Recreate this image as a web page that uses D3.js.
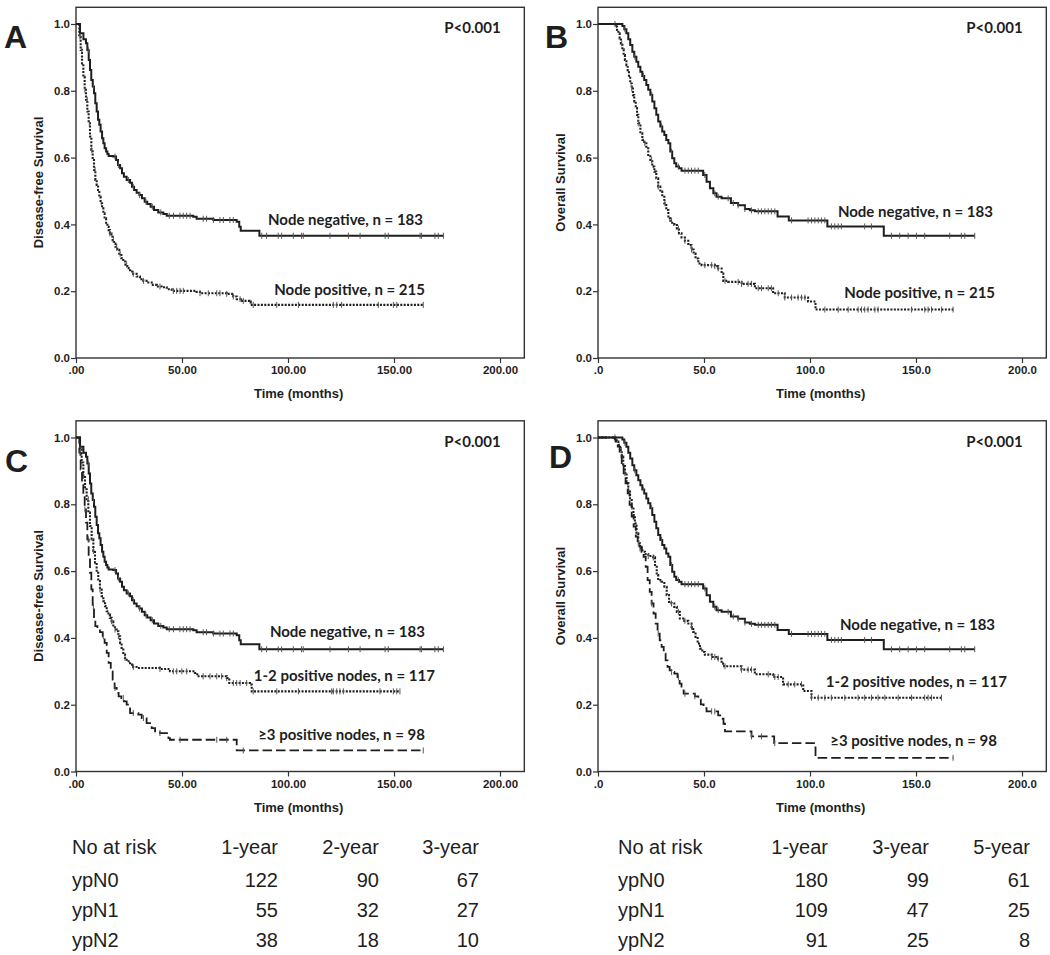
<!DOCTYPE html>
<html>
<head>
<meta charset="utf-8">
<script src="https://cdn.jsdelivr.net/npm/d3@7"></script>
<style>
    body { margin: 0; background: #fff; }
    svg text { fill: #1e1e1e; }
    .tick text { font: bold 11.5px "Liberation Sans", Arial, sans-serif; }
    .tick line { stroke: #333; stroke-width: 1.2; }
    .ytitle, .xtitle { font: bold 13px "Liberation Sans", Arial, sans-serif; }
    .letter { font: bold 32px "Liberation Sans", Arial, sans-serif; }
    .curve-label, .pval { font: bold 15px Lato, "Open Sans", sans-serif; }
    .risk { font: 20px "Liberation Sans", Arial, sans-serif; }
</style>
</head>
<body>
<svg id="chart"></svg>
<script>
(function(){
    "use strict";

    // ---- data: [months, survival] step points ----
    var dfsNodeNeg = [[0,1],[1.9,0.972],[3.5,0.954],[4.7,0.942],[5.35,0.922],[6.0,0.892],[6.6,0.862],[7.2,0.832],
        [7.9,0.813],[8.5,0.793],[9.1,0.763],[9.75,0.738],[10.4,0.713],[11.0,0.698],[11.6,0.678],[12.3,0.658],
        [12.9,0.643],[13.5,0.628],[14.2,0.618],[14.8,0.611],[15.4,0.605],[17.6,0.603],[18.9,0.593],[19.8,0.578],
        [20.8,0.568],[21.7,0.553],[22.6,0.543],[23.9,0.533],[25.5,0.525],[26.4,0.513],[27.4,0.503],[28.6,0.495],
        [29.9,0.488],[31.1,0.478],[32.4,0.468],[33.6,0.461],[35.2,0.453],[36.8,0.443],[38.8,0.436],[41.2,0.431],
        [42.8,0.426],[55.3,0.423],[56.9,0.417],[64.8,0.413],[75.8,0.408],[77.0,0.393],[77.7,0.381],[86.5,0.366],[173.3,0.366]];
    var dfsNodeNegCens = [5.8,8.2,18.4,20,24.7,27,30,33,36,40,44,46,49,50.6,52.2,53.8,60,61.6,64.8,67.9,69.5,72.6,74.2,
        87.6,89.9,95.4,97,102.5,106.4,107.2,119.8,128.5,134,145.8,147.3,162.3,163,169.3,170.9,173.3];

    var dfsNodePos = [[0,1],[1.1,1],[1.57,0.962],[2.2,0.922],[2.83,0.882],[3.46,0.842],[4.09,0.803],[4.72,0.773],
        [5.35,0.738],[5.97,0.703],[6.6,0.663],[7.23,0.623],[7.86,0.593],[8.49,0.563],[9.12,0.533],[9.75,0.518],
        [10.4,0.503],[11.0,0.483],[11.6,0.463],[12.3,0.448],[12.9,0.433],[13.5,0.418],[14.2,0.405],[14.8,0.393],
        [15.4,0.383],[16.0,0.373],[16.7,0.363],[17.3,0.353],[17.9,0.343],[18.6,0.333],[19.5,0.324],[20.4,0.312],
        [21.4,0.299],[22.3,0.289],[23.3,0.279],[24.2,0.269],[25.5,0.259],[27.0,0.252],[28.6,0.244],[30.2,0.236],
        [31.8,0.231],[33.3,0.226],[35.7,0.219],[38.1,0.214],[40.4,0.212],[42.8,0.206],[45.1,0.201],[56.9,0.198],
        [58.5,0.194],[71.1,0.192],[74.2,0.184],[75.8,0.176],[77.7,0.171],[81.8,0.169],[82.4,0.159],[163.8,0.159]];
    var dfsNodePosCens = [1.9,2.7,4.2,5.3,6.3,7.4,9,16,17.6,19.2,20.8,23.9,27,31.8,39.6,45.9,47.5,49.1,50.6,58.5,62.4,
        66.4,67.9,71.1,74.2,77.4,78.9,83.6,94.7,104.9,121.4,123,125.3,142.6,149.7,151.3,163.8];

    var dfsN1 = [[0,1],[1.1,1],[1.89,0.965],[2.67,0.925],[3.46,0.885],[4.25,0.845],[5.03,0.815],[5.82,0.775],
        [6.6,0.735],[7.39,0.695],[8.18,0.66],[8.96,0.625],[9.75,0.595],[10.5,0.57],[11.3,0.545],[12.1,0.525],
        [12.9,0.51],[13.7,0.495],[14.5,0.48],[15.3,0.47],[16.0,0.46],[16.8,0.45],[17.6,0.437],[18.4,0.425],
        [19.2,0.42],[20.0,0.405],[20.8,0.385],[21.5,0.37],[22.3,0.35],[23.1,0.34],[23.9,0.33],[25.5,0.32],
        [27.0,0.313],[28.6,0.31],[39.6,0.307],[44.3,0.30],[56.1,0.295],[57.2,0.285],[71.1,0.28],[72.3,0.265],
        [82.1,0.26],[82.9,0.24],[152.8,0.24]];
    var dfsN1Cens = [1.9,3.5,5.8,8.2,11.3,16.8,18.4,20,23.1,27,39.6,45.9,47.5,49.9,52.2,60,63.2,66.4,68.7,71.1,74.2,
        75.8,77.4,80.5,83.6,94.7,104.9,120.6,121.4,123,124.5,126.1,143.4,149.7,151.3,152.8];

    var dfsN2 = [[0,1],[1.1,1],[1.57,0.955],[2.2,0.905],[2.83,0.865],[3.46,0.825],[4.09,0.785],[4.72,0.745],
        [5.35,0.695],[5.97,0.645],[6.6,0.595],[7.23,0.545],[7.86,0.495],[8.49,0.455],[9.12,0.435],[10.1,0.427],
        [11.3,0.417],[12.6,0.405],[13.5,0.385],[14.5,0.355],[15.4,0.325],[16.4,0.30],[17.3,0.275],[18.2,0.25],
        [19.2,0.235],[20.1,0.225],[21.4,0.22],[22.6,0.21],[23.9,0.20],[25.5,0.175],[29.4,0.17],[31.0,0.16],
        [33.3,0.145],[35.7,0.13],[37.3,0.12],[39.6,0.115],[43.6,0.10],[44.3,0.095],[75.8,0.063],[163.8,0.063]];
    var dfsN2Cens = [1.9,4.2,5.8,8.2,12.9,18.4,22.3,27,31.8,39.6,49.1,66.4,71.1,78.9,163.8];

    var osNodeNeg = [[0,1],[10.8,1],[11.5,0.994],[12.4,0.984],[13.4,0.972],[14.3,0.954],[15.2,0.937],[16.2,0.917],
        [17.1,0.902],[18.1,0.887],[19.0,0.872],[20.0,0.857],[20.9,0.844],[21.8,0.832],[22.8,0.817],[23.7,0.803],
        [24.7,0.788],[25.6,0.768],[26.6,0.748],[27.5,0.728],[28.4,0.708],[29.4,0.693],[30.3,0.678],[31.3,0.668],
        [32.2,0.653],[33.2,0.643],[34.1,0.618],[35.0,0.598],[36.0,0.583],[36.9,0.573],[38.2,0.568],[39.4,0.561],
        [49.6,0.548],[51.2,0.528],[52.8,0.508],[54.4,0.493],[55.9,0.483],[58.3,0.478],[62.7,0.464],[66.1,0.457],
        [69.3,0.446],[71.6,0.442],[74.0,0.439],[84.7,0.424],[90.0,0.412],[108.2,0.394],[134.8,0.366],[177.7,0.366]];
    var osNodeNegCens = [8,12.7,17.4,21.4,25.3,30,34.7,37.9,41,42.6,44.1,45.7,47.3,50.4,55.1,56.7,61.4,63.8,66.1,69.3,
        72.4,75.6,77.1,78.7,80.3,81.8,83.4,91.3,99.1,100.7,102.3,103.9,105.4,107,110.1,111.7,113.3,114.8,125.8,129,
        138.4,142.3,146.3,150.2,154.1,165.9,171.4,173,177.7];

    var osNodePos = [[0,1],[7.7,1],[8.3,0.992],[9.0,0.982],[9.6,0.972],[10.2,0.957],[10.8,0.942],[11.5,0.924],
        [12.1,0.907],[12.7,0.892],[13.4,0.877],[14.0,0.862],[14.6,0.842],[15.2,0.822],[15.9,0.807],[16.5,0.787],
        [17.1,0.768],[17.8,0.748],[18.4,0.728],[19.0,0.703],[20.0,0.673],[20.9,0.653],[21.8,0.643],[22.8,0.628],
        [23.7,0.608],[24.7,0.593],[25.6,0.573],[26.6,0.558],[27.5,0.538],[28.4,0.513],[29.4,0.498],[30.3,0.483],
        [31.3,0.463],[32.2,0.443],[33.2,0.418],[34.1,0.411],[35.0,0.405],[36.0,0.398],[37.2,0.388],[38.2,0.373],
        [39.4,0.361],[41.0,0.351],[42.6,0.338],[44.1,0.325],[45.1,0.313],[46.0,0.298],[47.3,0.283],[48.9,0.278],
        [55.1,0.275],[56.7,0.268],[58.3,0.253],[59.1,0.231],[61.4,0.228],[67.7,0.222],[74.0,0.209],[82.6,0.194],
        [88.1,0.181],[99.1,0.169],[102.6,0.145],[167.5,0.145]];
    var osNodePosCens = [11.2,15.9,19,22.1,25.3,28.4,31.6,34.7,37.9,41,44.1,50.4,53.6,55.1,56.7,59.9,66.1,67.7,70.8,
        72.4,75.6,77.1,80.3,81.8,85,88.1,91.3,94.4,96,97.6,107,113.3,118,122.7,124.3,125.8,127.4,130.6,132.1,147.9,
        154.1,155.7,157.3,162,167.5];

    var osN1 = [[0,1],[7.2,1],[8.0,0.995],[8.8,0.988],[9.6,0.978],[10.4,0.963],[11.2,0.943],[11.9,0.918],
        [12.7,0.893],[13.5,0.868],[14.3,0.843],[15.1,0.818],[15.9,0.793],[16.7,0.768],[17.4,0.743],[18.2,0.713],
        [19.0,0.683],[19.8,0.668],[20.6,0.658],[22.2,0.651],[23.7,0.645],[26.1,0.641],[26.9,0.613],[27.7,0.588],
        [28.4,0.573],[30.0,0.568],[31.3,0.553],[32.4,0.528],[33.5,0.508],[34.7,0.503],[36.0,0.493],[37.2,0.478],
        [38.6,0.458],[40.2,0.451],[42.6,0.443],[44.1,0.433],[44.9,0.418],[46.0,0.403],[47.0,0.383],[48.1,0.368],
        [49.2,0.358],[50.4,0.35],[53.6,0.343],[55.9,0.338],[58.3,0.323],[59.5,0.315],[67.7,0.305],[74.0,0.291],
        [82.6,0.283],[87.3,0.261],[96.8,0.241],[100.7,0.221],[162.0,0.221]];
    var osN1Cens = [11,14.3,15.9,19.8,23.7,26.1,34.7,37.9,41,44.1,53.6,55.1,56.7,59.9,67.7,70.8,72.4,80.3,83.4,85,
        89.7,92.8,96,100.7,103.9,107,110.1,116.4,122.7,125.8,129,132.1,135.3,141.6,147.9,154.1,155.7,157.3,162];

    var osN2 = [[0,1],[7.2,1],[8.3,0.988],[9.3,0.973],[10.2,0.953],[11.2,0.923],[12.1,0.893],[13.0,0.863],
        [14.0,0.833],[14.9,0.798],[15.9,0.763],[16.8,0.733],[17.8,0.703],[18.7,0.683],[19.6,0.673],[20.6,0.663],
        [21.5,0.643],[22.5,0.613],[23.4,0.573],[24.4,0.538],[25.3,0.503],[26.2,0.473],[27.2,0.443],[28.1,0.413],
        [29.1,0.393],[30.0,0.373],[31.0,0.353],[31.9,0.333],[32.8,0.313],[33.8,0.303],[34.7,0.298],[36.0,0.293],
        [37.5,0.283],[38.5,0.263],[39.4,0.243],[40.4,0.233],[45.7,0.225],[47.3,0.215],[48.5,0.201],[49.8,0.19],
        [51.2,0.18],[56.7,0.168],[58.3,0.158],[59.2,0.143],[59.9,0.12],[72.4,0.105],[83.1,0.085],[102.6,0.041],
        [167.5,0.041]];
    var osN2Cens = [12.7,19,25.3,28.4,34.7,37.9,41,45.7,53.6,55.1,72.4,77.1,83.4,167.5];

    var yTicks = [0, 0.2, 0.4, 0.6, 0.8, 1.0];
    var xTicks = [0, 50, 100, 150, 200];
    var pValue = "P<0.001";

    // number at risk tables
    var riskGroups = ["ypN0", "ypN1", "ypN2"];
    var riskHeadDFS = ["1-year", "2-year", "3-year"];
    var riskDFS = [[122, 90, 67], [55, 32, 27], [38, 18, 10]];
    var riskHeadOS = ["1-year", "3-year", "5-year"];
    var riskOS = [[180, 99, 61], [109, 47, 25], [91, 25, 8]];

    // ---- layout ----
    var width = 1050, height = 955;
    var pxPerMonth = 2.12, pxPerUnit = 334, xMax = 211, yMax = 1.05;

    var svg = d3.select("svg#chart")
        .attr("width", width)
        .attr("height", height);

    var styles = {
        solid:  {dash: null, w: 2},
        dotted: {dash: "2,1.4", w: 2.1},
        dashed: {dash: "9.5,4", w: 1.8}
    };

    function fmt2(d) { return d === 0 ? ".00" : d.toFixed(2); }
    function fmt1(d) { return d === 0 ? ".0" : d.toFixed(1); }

    var panels = [
        {letter: "A", lx: 4, ly: 48, left: 76, bottom: 358, ytitle: "Disease-free Survival", xfmt: fmt2,
         curves: [
            {data: dfsNodeNeg, cens: dfsNodeNegCens, style: "solid", label: "Node negative, n = 183", at: [163.7, 0.398]},
            {data: dfsNodePos, cens: dfsNodePosCens, style: "dotted", label: "Node positive,  n = 215", at: [164.6, 0.189]}
         ]},
        {letter: "B", lx: 545, ly: 48, left: 598, bottom: 358, ytitle: "Overall Survival", xfmt: fmt1,
         curves: [
            {data: osNodeNeg, cens: osNodeNegCens, style: "solid", label: "Node negative, n = 183", at: [186.3, 0.422]},
            {data: osNodePos, cens: osNodePosCens, style: "dotted", label: "Node positive,  n = 215", at: [187.3, 0.18]}
         ]},
        {letter: "C", lx: 5, ly: 472, left: 76, bottom: 771.5, ytitle: "Disease-free Survival", xfmt: fmt2,
         curves: [
            {data: dfsNodeNeg, cens: dfsNodeNegCens, style: "solid", label: "Node negative, n = 183", at: [164.6, 0.402]},
            {data: dfsN1, cens: dfsN1Cens, style: "dotted", label: "1-2 positive nodes, n = 117", at: [169.3, 0.27]},
            {data: dfsN2, cens: dfsN2Cens, style: "dashed", label: "\u22653 positive nodes, n = 98", at: [164.6, 0.095]}
         ]},
        {letter: "D", lx: 549, ly: 468, left: 598, bottom: 771.5, ytitle: "Overall Survival", xfmt: fmt1,
         curves: [
            {data: osNodeNeg, cens: osNodeNegCens, style: "solid", label: "Node negative, n = 183", at: [187.3, 0.425]},
            {data: osN1, cens: osN1Cens, style: "dotted", label: "1-2 positive nodes, n = 117", at: [192.9, 0.254]},
            {data: osN2, cens: osN2Cens, style: "dashed", label: "\u22653 positive nodes, n = 98", at: [188.2, 0.077]}
         ]}
    ];

    var bisect = d3.bisector(function(d) { return d[0]; }).right;
    function survAt(data, t) {
        var i = bisect(data, t) - 1;
        return data[Math.max(0, i)][1];
    }

    panels.forEach(function(p) {
        var x = d3.scaleLinear().domain([0, xMax]).range([p.left, p.left + xMax * pxPerMonth]);
        var y = d3.scaleLinear().domain([0, yMax]).range([p.bottom, p.bottom - yMax * pxPerUnit]);
        var g = svg.append("g");

        // frame
        g.append("rect")
            .attr("x", x(0)).attr("y", y(yMax))
            .attr("width", x(xMax) - x(0) + 1).attr("height", y(0) - y(yMax))
            .attr("fill", "none").attr("stroke", "#333").attr("stroke-width", 1.4);

        // axes
        var ya = g.append("g").attr("transform", "translate(" + x(0) + ",0)")
            .call(d3.axisLeft(y).tickValues(yTicks).tickFormat(d3.format(".1f")).tickSize(5).tickPadding(1));
        ya.select(".domain").remove();
        var xa = g.append("g").attr("transform", "translate(0," + y(0) + ")")
            .call(d3.axisBottom(x).tickValues(xTicks).tickFormat(p.xfmt).tickSize(5).tickPadding(3));
        xa.select(".domain").remove();
        g.selectAll(".tick text").attr("fill", "#1e1e1e");

        g.append("text").attr("class", "ytitle")
            .attr("transform", "translate(" + (x(0) - 33) + "," + (y(0) - 175.5) + ") rotate(-90)")
            .attr("text-anchor", "middle")
            .text(p.ytitle);
        g.append("text").attr("class", "xtitle")
            .attr("x", x(105)).attr("y", y(0) + 40)
            .attr("text-anchor", "middle")
            .text("Time (months)");

        g.append("text").attr("class", "letter")
            .attr("x", p.lx).attr("y", p.ly)
            .text(p.letter);

        g.append("text").attr("class", "pval")
            .attr("x", x(200.3)).attr("y", y(0.973))
            .attr("text-anchor", "end")
            .text(pValue);

        var line = d3.line()
            .x(function(d) { return x(d[0]); })
            .y(function(d) { return y(d[1]); })
            .curve(d3.curveStepAfter);

        p.curves.forEach(function(c) {
            var st = styles[c.style];
            g.append("path")
                .datum(c.data)
                .attr("d", line)
                .attr("fill", "none")
                .attr("stroke", "#1e1e1e")
                .attr("stroke-width", st.w)
                .attr("stroke-dasharray", st.dash);

            g.selectAll(null)
                .data(c.cens)
                .enter().append("line")
                .attr("x1", function(t) { return x(t); })
                .attr("x2", function(t) { return x(t); })
                .attr("y1", function(t) { return y(survAt(c.data, t)) - 3; })
                .attr("y2", function(t) { return y(survAt(c.data, t)) + 3; })
                .attr("stroke", "#555")
                .attr("stroke-width", 1);

            g.append("text").attr("class", "curve-label")
                .attr("x", x(c.at[0])).attr("y", y(c.at[1]))
                .attr("text-anchor", "end")
                .text(c.label);
        });
    });

    // ---- number at risk tables ----
    var rowY = [854, 887, 917, 947];
    function riskTable(x0, colRight, heads, vals) {
        var t = svg.append("g").attr("class", "risk");
        t.append("text").attr("x", x0).attr("y", rowY[0]).text("No at risk");
        heads.forEach(function(h, j) {
            t.append("text").attr("x", colRight[j]).attr("y", rowY[0])
                .attr("text-anchor", "end").text(h);
        });
        riskGroups.forEach(function(r, i) {
            t.append("text").attr("x", x0).attr("y", rowY[i + 1]).text(r);
            vals[i].forEach(function(v, j) {
                t.append("text").attr("x", colRight[j]).attr("y", rowY[i + 1])
                    .attr("text-anchor", "end").text(v);
            });
        });
    }
    riskTable(72, [278, 379, 479], riskHeadDFS, riskDFS);
    riskTable(618, [828, 929, 1030], riskHeadOS, riskOS);
})();
</script>
</body>
</html>
